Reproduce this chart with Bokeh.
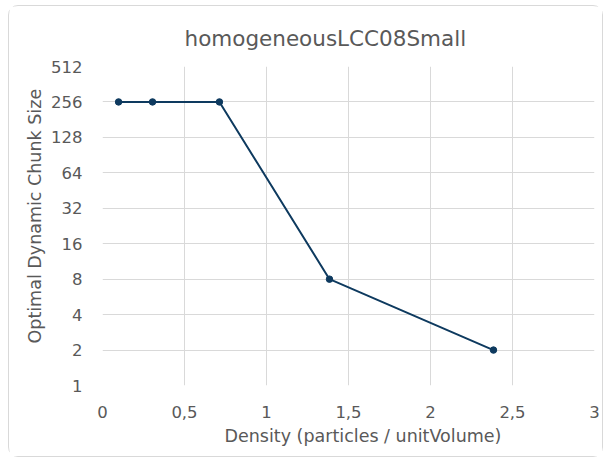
from bokeh.plotting import figure
from bokeh.models import FixedTicker, Range1d, Title
from bokeh.embed import file_html
from bokeh.resources import INLINE

density = [0.098, 0.305, 0.713, 1.384, 2.384]
chunk_size = [256, 256, 256, 8, 2]
x_ticks = [0, 0.5, 1, 1.5, 2, 2.5, 3]
x_tick_labels = ["0", "0,5", "1", "1,5", "2", "2,5", "3"]
y_ticks = [1, 2, 4, 8, 16, 32, 64, 128, 256, 512]
y_tick_labels = [str(v) for v in y_ticks]
title_text = "homogeneousLCC08Small"
x_label = "Density (particles / unitVolume)"
y_label = "Optimal Dynamic Chunk Size"

FONT = "DejaVu Sans"
GREY = "#595959"
LINE = "#0e3a5f"

p = figure(width=595, height=452, output_backend="svg", toolbar_location=None,
           y_axis_type="log", x_range=Range1d(0, 3), y_range=Range1d(1, 512),
           min_border_left=93, min_border_right=10, min_border_top=60, min_border_bottom=73)
p.styles = {"border": "1px solid #d9d9d9", "border-radius": "10px", "margin": "5px 0 0 8px"}
p.outline_line_color = None

p.title.text = title_text
p.title.align = "left"
p.title.offset = 82
p.title.text_font = FONT
p.title.text_font_size = "21.5px"
p.title.text_font_style = "normal"
p.title.text_color = GREY
p.title.standoff = 32

p.xaxis.ticker = FixedTicker(ticks=x_ticks)
p.xaxis.major_label_overrides = {k: v for k, v in zip(x_ticks, x_tick_labels)}
p.yaxis.ticker = FixedTicker(ticks=y_ticks)
p.yaxis.major_label_overrides = {k: v for k, v in zip(y_ticks, y_tick_labels)}
p.xgrid.ticker = FixedTicker(ticks=x_ticks)
p.ygrid.ticker = FixedTicker(ticks=y_ticks)
p.ygrid.minor_grid_line_color = None

for ax in (p.xaxis[0], p.yaxis[0]):
    ax.axis_line_color = None
    ax.major_tick_line_color = None
    ax.minor_tick_line_color = None
    ax.major_label_text_font = FONT
    ax.major_label_text_font_size = "16.5px"
    ax.major_label_text_color = GREY

p.xaxis.major_label_standoff = 14
p.yaxis.major_label_standoff = 14

xt = Title(text=x_label, align="left", offset=122, standoff=6,
           text_font=FONT, text_font_size="17.5px", text_font_style="normal",
           text_color=GREY)
p.add_layout(xt, "below")
yt = Title(text=y_label, align="left", offset=42, standoff=8,
           text_font=FONT, text_font_size="17.5px", text_font_style="normal",
           text_color=GREY)
p.add_layout(yt, "left")

p.xgrid.grid_line_color = "#d9d9d9"
p.ygrid.grid_line_color = "#d9d9d9"

p.line(density, chunk_size, line_color=LINE, line_width=2)
p.scatter(density, chunk_size, size=6.5, fill_color=LINE, line_color=LINE)

open("out.html", "w").write(file_html(p, INLINE))
